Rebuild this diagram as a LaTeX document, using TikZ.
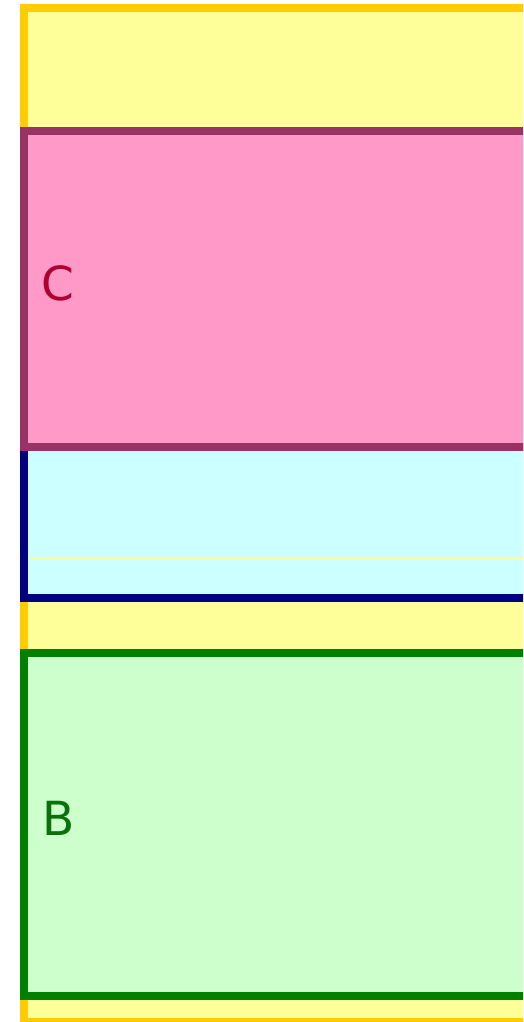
\documentclass[tikz,border=0pt]{standalone}
\usepackage{fontspec}
\setmainfont{DejaVu Sans}
\definecolor{yfill}{HTML}{FFFF99}
\definecolor{ydraw}{HTML}{FFCC00}
\definecolor{pfill}{HTML}{FF99C8}
\definecolor{pdraw}{HTML}{993366}
\definecolor{cfill}{HTML}{CCFFFF}
\definecolor{cdraw}{HTML}{000080}
\definecolor{gfill}{HTML}{CCFFCC}
\definecolor{gdraw}{HTML}{008000}
\definecolor{ctext}{HTML}{B00032}
\definecolor{btext}{HTML}{0A700A}
\begin{document}
\begin{tikzpicture}[x=1pt,y=-1pt,
  region/.style={line width=8pt},
  lbl/.style={font=\fontsize{47}{47}\selectfont, anchor=west, inner sep=0pt}]
\useasboundingbox (0,0) rectangle (523,1022);
\clip (0,0) rectangle (523,1022);
\draw[region, draw=ydraw, fill=yfill] (24,8) rectangle (600,1022);
\draw[region, draw=cdraw, fill=cfill] (24,447) rectangle (600,598);
\coordinate (ls) at (28,558);
\coordinate (le) at (600,558);
\draw[yfill, line width=1pt] (ls) -- (le);
\draw[region, draw=pdraw, fill=pfill] (24,131.5) rectangle (600,447);
\draw[region, draw=gdraw, fill=gfill] (24,653) rectangle (600,996);
\node[lbl, text=ctext] (c) at (41,283) {C};
\node[lbl, text=btext] (b) at (42,818.5) {B};
\end{tikzpicture}
\end{document}
